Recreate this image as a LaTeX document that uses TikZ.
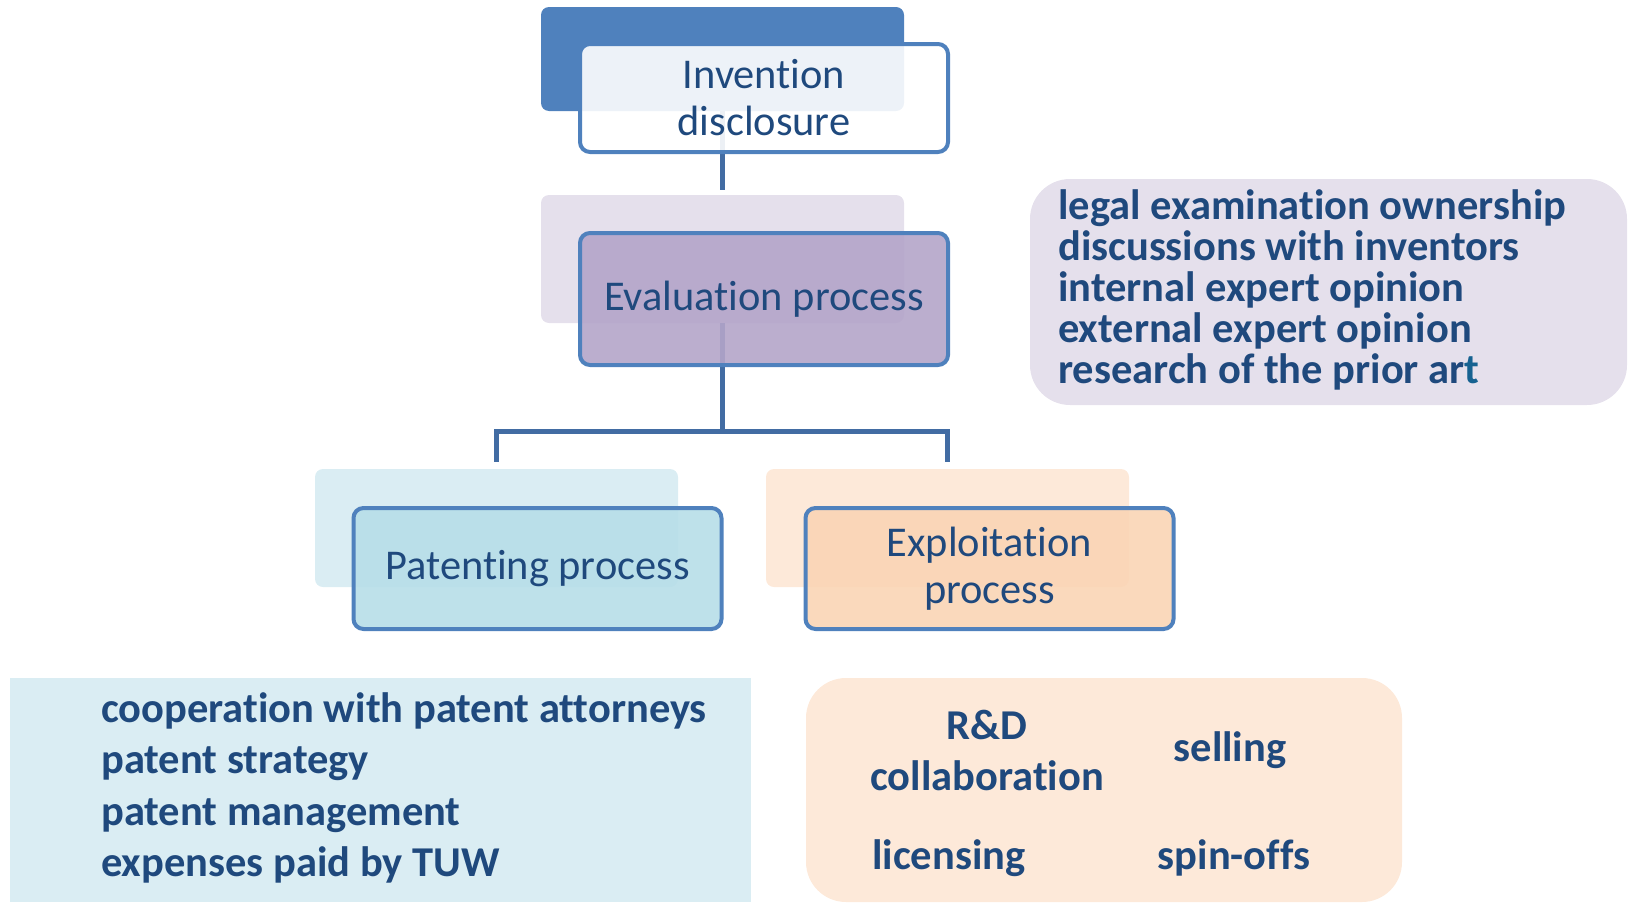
\documentclass[tikz,border=0pt]{standalone}
\usepackage{fontspec}
\setmainfont{Carlito}[Ligatures=NoCommon]
\usetikzlibrary{positioning}
\definecolor{txtblue}{RGB}{31,73,125}
\definecolor{lineblue}{RGB}{79,129,189}
\definecolor{linkblue}{RGB}{66,108,163}
\definecolor{evallight}{RGB}{229,224,236}
\definecolor{evaldark}{RGB}{180,165,201}
\definecolor{patlight}{RGB}{218,237,243}
\definecolor{patdark}{RGB}{183,222,232}
\definecolor{explight}{RGB}{253,233,217}
\definecolor{expdark}{RGB}{250,213,181}
\definecolor{artteal}{RGB}{22,98,145}

\begin{document}
\begin{tikzpicture}[x=1pt,y=-1pt,
	backbox/.style={rounded corners=8pt, minimum width=363pt, inner sep=0pt},
	frontbox/.style={draw=lineblue, line width=4pt, rounded corners=10pt, minimum width=368pt,
		fill opacity=0.9, text opacity=1, text=txtblue, align=center,
		font=\fontsize{42.4}{47}\selectfont},
	link/.style={draw=linkblue, line width=5pt},
	infobox/.style={rounded corners=40pt, inner sep=0pt},
	infotext/.style={text=txtblue, align=left, inner sep=0pt, font=\bfseries\fontsize{42.5}{41}\selectfont}]
	\useasboundingbox (0,0) rectangle (1635,902);
	% back layer
	\node[backbox, fill=lineblue, minimum height=104pt] (invback) at (722.5,59) {};
	\node[backbox, fill=evallight, minimum height=128pt] (evalback) at (722.5,259) {};
	\node[backbox, fill=patlight, minimum height=118pt] (patback) at (496.5,528) {};
	\node[backbox, fill=explight, minimum height=118pt] (expback) at (947.5,528) {};
	% connectors
	\coordinate (fork) at (722.5,431);
	\draw[link, shorten >=5pt] (invback.south) -- (evalback.north);
	\draw[link] (evalback.south) -- (fork);
	\draw[link, shorten <=7pt, shorten >=7pt] (patback.north) |- (fork) -| (expback.north);
	% front layer
	\node[frontbox, fill=white, minimum height=108pt] (inv) at (764,98) {Invention\\disclosure};
	\node[frontbox, fill=evaldark, minimum height=132pt] (eval) at (764,299) {Evaluation process};
	\node[frontbox, fill=patdark, minimum height=121pt] (pat) at (537.5,568.5) {Patenting process};
	\node[frontbox, fill=expdark, minimum height=121pt] (exp) at (989.5,568.5) {Exploitation\\process};
	% details
	\node[infobox, fill=evallight, minimum width=597pt, minimum height=226pt] (evalinfo) at (1328.5,292) {};
	\node[infobox, fill=patlight, rounded corners=0pt, minimum width=741pt, minimum height=224pt] (patinfo) at (380.5,790) {};
	\node[infobox, fill=explight, minimum width=596pt, minimum height=224pt] (expinfo) at (1104,790) {};
	\node[infotext, anchor=west] (evaltxt) at (1058,290) {legal examination ownership\\discussions with inventors\\internal expert opinion\\external expert opinion\\research of the prior ar\textcolor{artteal}{t}};
	\node[infotext, anchor=west, font=\bfseries\fontsize{42.5}{51.6}\selectfont] (pattxt) at (101,788) {cooperation with patent attorneys\\patent strategy\\patent management\\expenses paid by TUW};
	\node[infotext, align=center, font=\bfseries\fontsize{42.5}{51}\selectfont] (rd) at (987,750) {R\&D\\collaboration};
	\node[infotext] (sell) at (1230,750) {selling};
	\node[infotext, anchor=west] (lic) at (872,858) {licensing};
	\node[infotext] (spin) at (1234,858) {spin-offs};
\end{tikzpicture}
\end{document}
